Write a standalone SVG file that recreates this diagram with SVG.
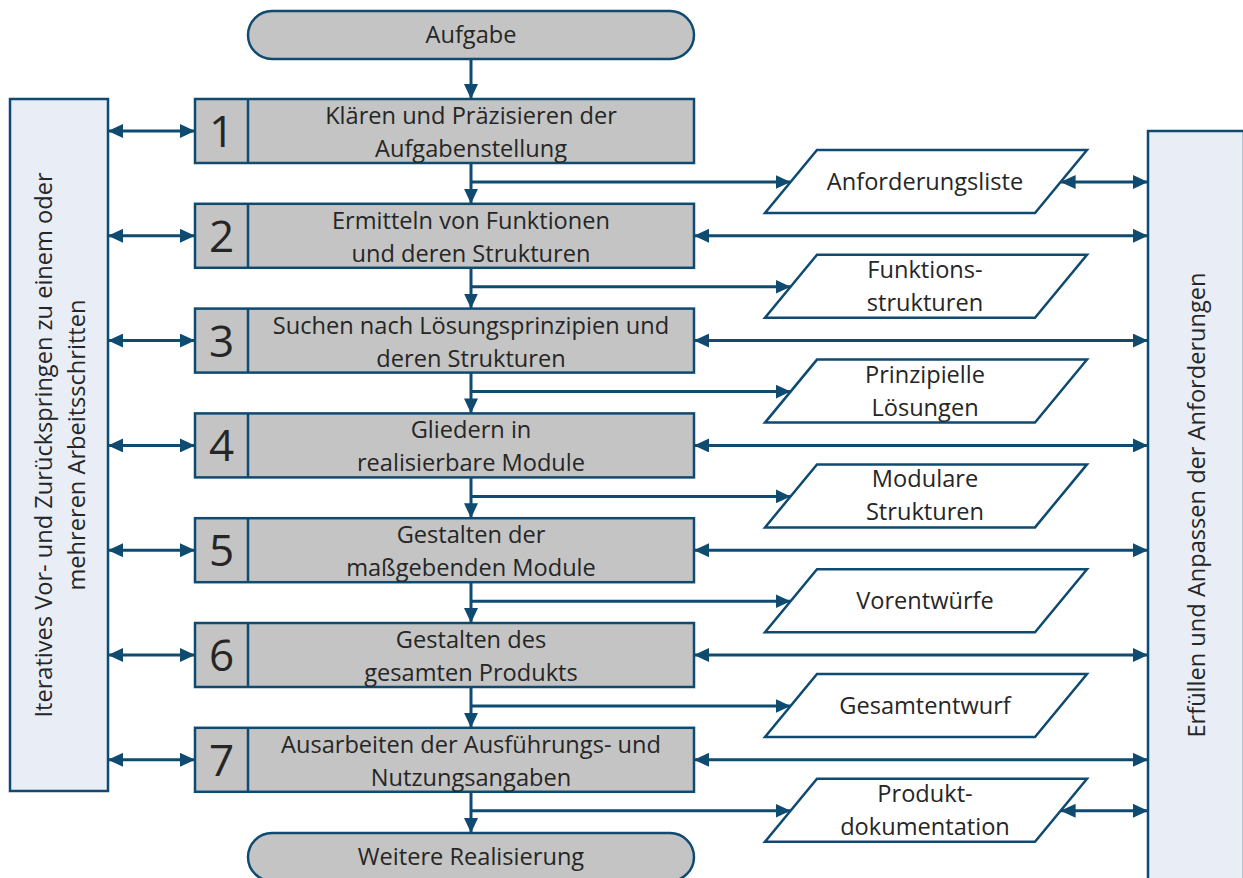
<svg xmlns="http://www.w3.org/2000/svg" width="1243" height="878" viewBox="0 0 1243 878">
  <style>
    .txt { font-family: "Open Sans", "Liberation Sans", sans-serif; font-size: 23.6px; fill: #262626; text-anchor: middle; }
    .num { font-family: "Open Sans", "Liberation Sans", sans-serif; font-size: 44px; fill: #262626; text-anchor: middle; }
    .step { fill: #c3c4c3; stroke: #0f4a70; stroke-width: 2.5; }
    .term { fill: #c3c4c3; stroke: #0f4a70; stroke-width: 2.5; }
    .side { fill: #e9eef6; stroke: #0f4a70; stroke-width: 2.5; }
    .doc { fill: #ffffff; stroke: #0f4a70; stroke-width: 2.5; stroke-linejoin: miter; }
    .div { stroke: #0f4a70; stroke-width: 2.5; }
    .con { fill: none; stroke: #0f4a70; stroke-width: 3; }
    .one { marker-end: url(#ah); }
    .two { marker-start: url(#ah); marker-end: url(#ah); }
  </style>
  <defs>
    <marker id="ah" viewBox="0 0 15 14" refX="15" refY="7" markerWidth="15" markerHeight="14" markerUnits="userSpaceOnUse" orient="auto-start-reverse">
      <path d="M0,0 L15,7 L0,14 Z" fill="#0f4a70"/>
    </marker>
  </defs>

  <!-- side panels -->
  <g id="side-left">
    <rect class="side" x="10" y="99" width="98" height="692"/>
    <text class="txt" transform="translate(52,445) rotate(-90)">Iteratives Vor- und Zurückspringen zu einem oder</text>
    <text class="txt" transform="translate(85,445) rotate(-90)">mehreren Arbeitsschritten</text>
  </g>
  <g id="side-right">
    <rect class="side" x="1148" y="131" width="96" height="760"/>
    <text class="txt" transform="translate(1205,505) rotate(-90)">Erfüllen und Anpassen der Anforderungen</text>
  </g>

  <!-- connectors -->
  <g id="connectors">
    <!-- main flow -->
    <line class="con one" x1="471" y1="59" x2="471" y2="99"/>
    <line class="con one" x1="471" y1="163" x2="471" y2="203.8"/>
    <line class="con one" x1="471" y1="267.8" x2="471" y2="308.6"/>
    <line class="con one" x1="471" y1="372.6" x2="471" y2="413.4"/>
    <line class="con one" x1="471" y1="477.4" x2="471" y2="518.2"/>
    <line class="con one" x1="471" y1="582.2" x2="471" y2="623"/>
    <line class="con one" x1="471" y1="687" x2="471" y2="727.8"/>
    <line class="con one" x1="471" y1="791.8" x2="471" y2="833"/>
    <!-- results -->
    <line class="con one" x1="471" y1="182" x2="790.6" y2="182"/>
    <line class="con one" x1="471" y1="286.8" x2="790.6" y2="286.8"/>
    <line class="con one" x1="471" y1="391.6" x2="790.6" y2="391.6"/>
    <line class="con one" x1="471" y1="496.4" x2="790.6" y2="496.4"/>
    <line class="con one" x1="471" y1="601.2" x2="790.6" y2="601.2"/>
    <line class="con one" x1="471" y1="706" x2="790.6" y2="706"/>
    <line class="con one" x1="471" y1="810.8" x2="790.6" y2="810.8"/>
    <!-- iteration links -->
    <line class="con two" x1="108" y1="131" x2="195" y2="131"/>
    <line class="con two" x1="108" y1="235.8" x2="195" y2="235.8"/>
    <line class="con two" x1="108" y1="340.6" x2="195" y2="340.6"/>
    <line class="con two" x1="108" y1="445.4" x2="195" y2="445.4"/>
    <line class="con two" x1="108" y1="550.2" x2="195" y2="550.2"/>
    <line class="con two" x1="108" y1="655" x2="195" y2="655"/>
    <line class="con two" x1="108" y1="759.8" x2="195" y2="759.8"/>
    <!-- requirement links -->
    <line class="con two" x1="1060.6" y1="182" x2="1148" y2="182"/>
    <line class="con two" x1="694" y1="235.8" x2="1148" y2="235.8"/>
    <line class="con two" x1="694" y1="340.6" x2="1148" y2="340.6"/>
    <line class="con two" x1="694" y1="445.4" x2="1148" y2="445.4"/>
    <line class="con two" x1="694" y1="550.2" x2="1148" y2="550.2"/>
    <line class="con two" x1="694" y1="655" x2="1148" y2="655"/>
    <line class="con two" x1="694" y1="759.8" x2="1148" y2="759.8"/>
    <line class="con two" x1="1060.6" y1="810.8" x2="1148" y2="810.8"/>
  </g>

  <!-- start / end -->
  <g id="start">
    <rect class="term" x="248" y="11" width="446" height="48" rx="24" ry="24"/>
    <text class="txt" x="471" y="43">Aufgabe</text>
  </g>
  <g id="end">
    <rect class="term" x="248" y="833" width="446" height="48" rx="24" ry="24"/>
    <text class="txt" x="471" y="865">Weitere Realisierung</text>
  </g>

  <!-- work steps -->
  <g id="step1">
    <rect class="step" x="195" y="99" width="499" height="64"/>
    <line class="div" x1="248" y1="99" x2="248" y2="163"/>
    <text class="num" x="221.5" y="147">1</text>
    <text class="txt" x="471" y="124">Klären und Präzisieren der</text>
    <text class="txt" x="471" y="157">Aufgabenstellung</text>
  </g>
  <g id="step2">
    <rect class="step" x="195" y="203.8" width="499" height="64"/>
    <line class="div" x1="248" y1="203.8" x2="248" y2="267.8"/>
    <text class="num" x="221.5" y="251.8">2</text>
    <text class="txt" x="471" y="228.8">Ermitteln von Funktionen</text>
    <text class="txt" x="471" y="261.8">und deren Strukturen</text>
  </g>
  <g id="step3">
    <rect class="step" x="195" y="308.6" width="499" height="64"/>
    <line class="div" x1="248" y1="308.6" x2="248" y2="372.6"/>
    <text class="num" x="221.5" y="356.6">3</text>
    <text class="txt" x="471" y="333.6">Suchen nach Lösungsprinzipien und</text>
    <text class="txt" x="471" y="366.6">deren Strukturen</text>
  </g>
  <g id="step4">
    <rect class="step" x="195" y="413.4" width="499" height="64"/>
    <line class="div" x1="248" y1="413.4" x2="248" y2="477.4"/>
    <text class="num" x="221.5" y="461.4">4</text>
    <text class="txt" x="471" y="438.4">Gliedern in</text>
    <text class="txt" x="471" y="471.4">realisierbare Module</text>
  </g>
  <g id="step5">
    <rect class="step" x="195" y="518.2" width="499" height="64"/>
    <line class="div" x1="248" y1="518.2" x2="248" y2="582.2"/>
    <text class="num" x="221.5" y="566.2">5</text>
    <text class="txt" x="471" y="543.2">Gestalten der</text>
    <text class="txt" x="471" y="576.2">maßgebenden Module</text>
  </g>
  <g id="step6">
    <rect class="step" x="195" y="623" width="499" height="64"/>
    <line class="div" x1="248" y1="623" x2="248" y2="687"/>
    <text class="num" x="221.5" y="671">6</text>
    <text class="txt" x="471" y="648">Gestalten des</text>
    <text class="txt" x="471" y="681">gesamten Produkts</text>
  </g>
  <g id="step7">
    <rect class="step" x="195" y="727.8" width="499" height="64"/>
    <line class="div" x1="248" y1="727.8" x2="248" y2="791.8"/>
    <text class="num" x="221.5" y="775.8">7</text>
    <text class="txt" x="471" y="752.8">Ausarbeiten der Ausführungs- und</text>
    <text class="txt" x="471" y="785.8">Nutzungsangaben</text>
  </g>

  <!-- results -->
  <g id="result1">
    <polygon class="doc" points="817,150 1087,150 1035,213 765,213"/>
    <text class="txt" x="925" y="190">Anforderungsliste</text>
  </g>
  <g id="result2">
    <polygon class="doc" points="817,254.8 1087,254.8 1035,317.8 765,317.8"/>
    <text class="txt" x="925" y="277.8">Funktions-</text>
    <text class="txt" x="925" y="310.8">strukturen</text>
  </g>
  <g id="result3">
    <polygon class="doc" points="817,359.6 1087,359.6 1035,422.6 765,422.6"/>
    <text class="txt" x="925" y="382.6">Prinzipielle</text>
    <text class="txt" x="925" y="415.6">Lösungen</text>
  </g>
  <g id="result4">
    <polygon class="doc" points="817,464.4 1087,464.4 1035,527.4 765,527.4"/>
    <text class="txt" x="925" y="487.4">Modulare</text>
    <text class="txt" x="925" y="520.4">Strukturen</text>
  </g>
  <g id="result5">
    <polygon class="doc" points="817,569.2 1087,569.2 1035,632.2 765,632.2"/>
    <text class="txt" x="925" y="609.2">Vorentwürfe</text>
  </g>
  <g id="result6">
    <polygon class="doc" points="817,674 1087,674 1035,737 765,737"/>
    <text class="txt" x="925" y="714">Gesamtentwurf</text>
  </g>
  <g id="result7">
    <polygon class="doc" points="817,778.8 1087,778.8 1035,841.8 765,841.8"/>
    <text class="txt" x="925" y="801.8">Produkt-</text>
    <text class="txt" x="925" y="834.8">dokumentation</text>
  </g>
</svg>
